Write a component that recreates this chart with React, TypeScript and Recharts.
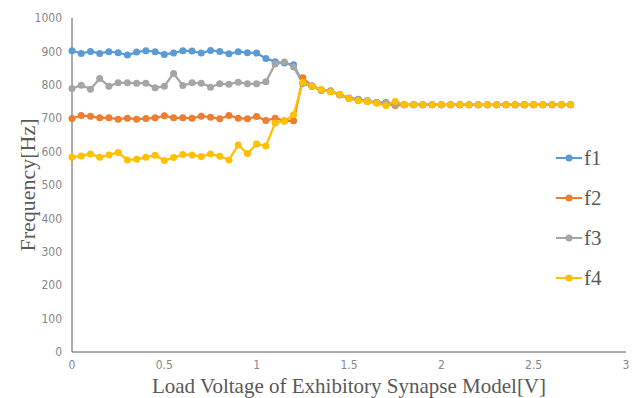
import { Label, Legend, Line, LineChart, XAxis, YAxis } from "recharts";

const voltage = [
  0, 0.05, 0.1, 0.15, 0.2, 0.25, 0.3, 0.35, 0.4, 0.45,
  0.5, 0.55, 0.6, 0.65, 0.7, 0.75, 0.8, 0.85, 0.9, 0.95,
  1, 1.05, 1.1, 1.15, 1.2, 1.25, 1.3, 1.35, 1.4, 1.45,
  1.5, 1.55, 1.6, 1.65, 1.7, 1.75, 1.8, 1.85, 1.9, 1.95,
  2, 2.05, 2.1, 2.15, 2.2, 2.25, 2.3, 2.35, 2.4, 2.45,
  2.5, 2.55, 2.6, 2.65, 2.7,
];

const f1 = [
  902, 894, 900, 894, 899, 896, 889, 898, 902, 899,
  891, 895, 902, 901, 895, 903, 900, 893, 899, 896,
  895, 879, 869, 865, 860, 805, 797, 785, 782, 770,
  760, 757, 752, 747, 745, 742, 740, 740, 740, 740,
  740, 740, 740, 740, 740, 740, 740, 740, 740, 740,
  740, 740, 740, 740, 740,
];

const f2 = [
  699, 708, 706, 701, 701, 697, 700, 697, 699, 701,
  707, 701, 701, 700, 706, 703, 698, 708, 700, 698,
  705, 693, 700, 692, 692, 821, 796, 784, 780, 770,
  760, 755, 750, 746, 744, 738, 740, 740, 740, 740,
  740, 740, 740, 740, 740, 740, 740, 740, 740, 740,
  740, 740, 740, 740, 740,
];

const f3 = [
  789, 799, 787, 819, 796, 806, 806, 805, 805, 791,
  796, 834, 798, 806, 805, 793, 803, 802, 808, 803,
  803, 809, 862, 868, 853, 805, 795, 783, 780, 770,
  760, 756, 752, 747, 748, 742, 740, 740, 740, 740,
  740, 740, 740, 740, 740, 740, 740, 740, 740, 740,
  740, 740, 740, 740, 740,
];

const f4 = [
  583, 587, 593, 583, 590, 597, 575, 577, 583, 589,
  573, 582, 591, 590, 585, 593, 586, 575, 620, 594,
  623, 617, 686, 691, 710, 808, 796, 786, 779, 772,
  759, 752, 750, 745, 738, 750, 740, 740, 740, 740,
  740, 740, 740, 740, 740, 740, 740, 740, 740, 740,
  740, 740, 740, 740, 740,
];

const xTicks = [0, 0.5, 1, 1.5, 2, 2.5, 3];
const yTicks = [0, 100, 200, 300, 400, 500, 600, 700, 800, 900, 1000];

const series = [
  { key: "f1", values: f1, color: "#5B9BD5" },
  { key: "f2", values: f2, color: "#ED7D31" },
  { key: "f3", values: f3, color: "#A5A5A5" },
  { key: "f4", values: f4, color: "#FFC000" },
];

const data = voltage.map((v, i) => ({
  v,
  f1: f1[i],
  f2: f2[i],
  f3: f3[i],
  f4: f4[i],
}));

const serif = '"Liberation Serif", "Times New Roman", serif';
const narrow = '"Liberation Sans Narrow", "DejaVu Sans Condensed", sans-serif';
const tickStyle = { fontSize: 12, fill: "#878787", fontFamily: narrow };

function LegendBox() {
  return (
    <div style={{ fontFamily: serif, fontSize: 21, color: "#595959" }}>
      {series.map((s) => (
        <div key={s.key} style={{ height: 40, display: "flex", alignItems: "center" }}>
          <svg width={28} height={10} style={{ marginRight: 1 }}>
            <line x1={1} y1={5} x2={27} y2={5} stroke={s.color} strokeWidth={2} />
            <circle cx={14} cy={5} r={3.5} fill={s.color} />
          </svg>
          <span>{s.key}</span>
        </div>
      ))}
    </div>
  );
}

function YTitle() {
  return (
    <text
      x={27}
      y={185}
      transform="rotate(-90 27 185)"
      textAnchor="middle"
      dominantBaseline="central"
      fontFamily={serif}
      fontSize={22}
      fill="#595959"
    >
      Frequency[Hz]
    </text>
  );
}

export default function App() {
  return (
    <div style={{ position: "absolute", left: 0, top: 0, width: 640, height: 398, background: "#fff" }}>
      <LineChart width={640} height={398} data={data} margin={{ top: 18, right: 14, bottom: 0, left: 0 }}>
        <XAxis
          dataKey="v"
          type="number"
          domain={[0, 3]}
          ticks={xTicks}
          tickLine={false}
          tickMargin={2}
          height={46}
          tick={tickStyle}
          axisLine={{ stroke: "#595959", strokeWidth: 1 }}
        >
          <Label
            value="Load Voltage of Exhibitory Synapse Model[V]"
            position="insideBottom"
            offset={5}
            style={{ fontFamily: serif, fontSize: 21, fill: "#595959" }}
          />
        </XAxis>
        <YAxis
          type="number"
          domain={[0, 1000]}
          ticks={yTicks}
          width={72}
          tickLine={false}
          tickMargin={4}
          tick={tickStyle}
          axisLine={{ stroke: "#595959", strokeWidth: 1 }}
        >
          <Label content={<YTitle />} />
        </YAxis>
        <Legend
          layout="vertical"
          align="center"
          verticalAlign="middle"
          wrapperStyle={{ left: 555, top: 138, width: 80 }}
          content={<LegendBox />}
        />
        {series.map((s) => (
          <Line
            key={s.key}
            dataKey={s.key}
            stroke={s.color}
            strokeWidth={2.25}
            dot={{ r: 3.5, fill: s.color, stroke: s.color, strokeWidth: 0 }}
            activeDot={false}
            isAnimationActive={false}
          />
        ))}
      </LineChart>
    </div>
  );
}
